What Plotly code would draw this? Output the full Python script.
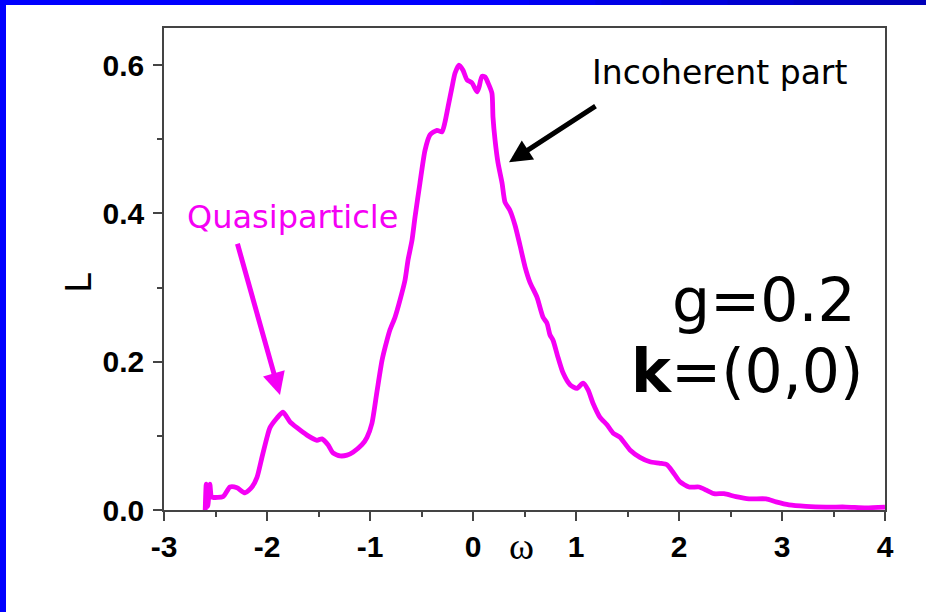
import plotly.graph_objects as go

# Spectral function L(omega) for g=0.2 at k=(0,0)
omega = [-2.60, -2.59, -2.575, -2.555, -2.54, -2.525, -2.427, -2.359, -2.291, -2.214,
         -2.146, -2.097, -2.049, -2.000, -1.971, -1.903, -1.845, -1.777, -1.709, -1.612,
         -1.515, -1.466, -1.408, -1.359, -1.291, -1.223, -1.165, -1.078, -1.029, -0.981,
         -0.932, -0.883, -0.835, -0.806, -0.757, -0.709, -0.660, -0.631, -0.592, -0.563,
         -0.515, -0.466, -0.417, -0.350, -0.301, -0.272, -0.243, -0.204, -0.175, -0.136,
         -0.097, -0.058, -0.010, 0.039, 0.058, 0.087, 0.117, 0.146, 0.184, 0.194,
         0.214, 0.243, 0.282, 0.311, 0.359, 0.408, 0.456, 0.505, 0.553, 0.621,
         0.680, 0.718, 0.748, 0.777, 0.825, 0.874, 0.942, 1.010, 1.068, 1.117,
         1.165, 1.233, 1.301, 1.359, 1.427, 1.524, 1.621, 1.718, 1.816, 1.883,
         1.942, 2.010, 2.097, 2.194, 2.262, 2.340, 2.437, 2.553, 2.680, 2.845,
         2.942, 3.068, 3.233, 3.427, 3.621, 3.816, 4.000]
L_vals = [0.000, 0.035, 0.005, 0.035, 0.018, 0.017, 0.018, 0.031, 0.030, 0.023,
          0.031, 0.044, 0.071, 0.098, 0.111, 0.124, 0.132, 0.119, 0.111, 0.101,
          0.094, 0.096, 0.088, 0.077, 0.073, 0.074, 0.078, 0.088, 0.098, 0.117,
          0.160, 0.202, 0.229, 0.243, 0.260, 0.283, 0.310, 0.337, 0.364, 0.395,
          0.441, 0.485, 0.506, 0.512, 0.510, 0.523, 0.543, 0.570, 0.589, 0.600,
          0.593, 0.580, 0.576, 0.564, 0.570, 0.585, 0.584, 0.576, 0.562, 0.530,
          0.499, 0.468, 0.441, 0.415, 0.404, 0.384, 0.357, 0.328, 0.307, 0.287,
          0.260, 0.252, 0.236, 0.229, 0.206, 0.185, 0.169, 0.164, 0.171, 0.162,
          0.144, 0.125, 0.115, 0.104, 0.098, 0.081, 0.071, 0.065, 0.063, 0.061,
          0.051, 0.038, 0.031, 0.031, 0.027, 0.022, 0.022, 0.018, 0.015, 0.015,
          0.011, 0.007, 0.005, 0.004, 0.004, 0.003, 0.004]

x_ticks = [-3, -2, -1, 0, 1, 2, 3, 4]
y_ticks = [0.0, 0.2, 0.4, 0.6]
y_tick_text = ["0.0", "0.2", "0.4", "0.6"]

W, H = 926, 612
ML, MR, MT, MB = 164, 41, 28, 102
PW, PH = W - ML - MR, H - MT - MB


def px(xp):
    return (xp - ML) / PW


def py(yp):
    return (H - MB - yp) / PH


MAGENTA = "#F500F5"
SANS = "DejaVu Sans"
TICK_FONT = dict(family="Liberation Sans", size=30, color="black", weight="bold")

fig = go.Figure()
fig.add_trace(go.Scatter(x=omega, y=L_vals, mode="lines",
                         line=dict(color=MAGENTA, width=4.8, shape="spline", smoothing=0.6),
                         hoverinfo="skip", showlegend=False))

axis_common = dict(showline=True, linecolor="#444444", linewidth=1.6, mirror=True,
                   ticks="outside", ticklen=9, tickwidth=1.6, tickcolor="#444444",
                   showgrid=False, zeroline=False, tickfont=TICK_FONT)

fig.update_xaxes(range=[-3, 4], tickvals=x_ticks, ticktext=[str(v) for v in x_ticks],
                 minor=dict(dtick=0.5, ticks="outside", ticklen=5, tickwidth=1.6,
                            tickcolor="#444444", showgrid=False),
                 **axis_common)
fig.update_yaxes(range=[0, 0.65], tickvals=y_ticks, ticktext=y_tick_text,
                 ticklabelstandoff=3,
                 minor=dict(dtick=0.1, ticks="outside", ticklen=5, tickwidth=1.6,
                            tickcolor="#444444", showgrid=False),
                 **axis_common)

# Blue slide frame along the left and top edges
shapes = [dict(type="rect", xref="paper", yref="paper", x0=px(0), x1=px(6), y0=py(H), y1=py(0),
               fillcolor="#0000FF", line=dict(width=0), layer="above")]
n_steps = 14
for i in range(n_steps):
    x0 = i * W / n_steps
    x1 = (i + 1) * W / n_steps + 1
    t = max(0.0, (x0 - 450) / (W - 450))
    b = int(255 - t * 80)
    shapes.append(dict(type="rect", xref="paper", yref="paper", x0=px(x0), x1=px(x1),
                       y0=py(5), y1=py(0), fillcolor=f"rgb(0,0,{b})", line=dict(width=0),
                       layer="above"))

annotations = [
    # axis titles
    dict(xref="paper", yref="paper", x=px(78), y=py(283), xanchor="center", yanchor="middle",
         text="L", showarrow=False, textangle=-90,
         font=dict(family=SANS, size=36, color="black")),
    dict(xref="paper", yref="paper", x=px(521), y=py(546), xanchor="center", yanchor="middle",
         text="ω", showarrow=False,
         font=dict(family="Liberation Serif", size=38, color="black")),
    # labels
    dict(x=-1.757, y=0.395, text="Quasiparticle", showarrow=False,
         font=dict(family=SANS, size=32, color=MAGENTA)),
    dict(x=2.398, y=0.590, text="Incoherent part", showarrow=False,
         font=dict(family=SANS, size=33, color="black")),
    dict(x=3.74, y=0.283, text="g=0.2", showarrow=False, xanchor="right",
         font=dict(family=SANS, size=60, color="black")),
    dict(x=3.81, y=0.187, text="<b>k</b>=(0,0)", showarrow=False, xanchor="right",
         font=dict(family=SANS, size=60, color="black")),
    # arrows
    dict(x=-1.874, y=0.155, ax=-2.291, ay=0.361, axref="x", ayref="y", text="",
         showarrow=True, arrowhead=2, arrowsize=0.9, arrowwidth=5, arrowcolor=MAGENTA),
    dict(x=0.350, y=0.469, ax=1.204, ay=0.546, axref="x", ayref="y", text="",
         showarrow=True, arrowhead=2, arrowsize=0.9, arrowwidth=5, arrowcolor="black"),
]

fig.update_layout(width=W, height=H, margin=dict(l=ML, r=MR, t=MT, b=MB),
                  paper_bgcolor="white", plot_bgcolor="white",
                  shapes=shapes, annotations=annotations)

fig.write_html("out.html")
